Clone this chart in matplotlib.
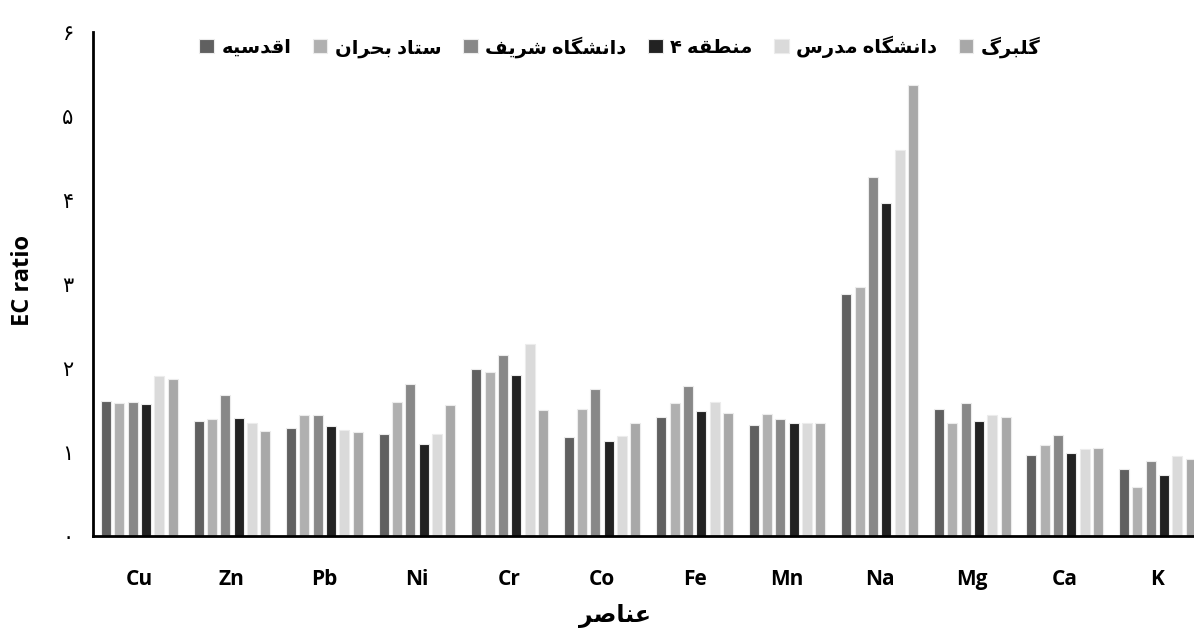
import matplotlib
matplotlib.use("Agg")
import matplotlib.pyplot as plt
import numpy as np

# عناصر و داده‌ها
elements = ["Cu", "Zn", "Pb", "Ni", "Cr", "Co", "Fe", "Mn", "Na", "Mg", "Ca", "K"]
aghdasieh = [1.61, 1.37, 1.29, 1.22, 1.99, 1.18, 1.42, 1.32, 2.88, 1.51, 0.96, 0.80]
setad_bohran = [1.58, 1.39, 1.44, 1.59, 1.95, 1.51, 1.58, 1.45, 2.97, 1.35, 1.08, 0.58]
sharif = [1.59, 1.68, 1.44, 1.81, 2.15, 1.75, 1.78, 1.39, 4.28, 1.58, 1.20, 0.89]
mantaghe4 = [1.57, 1.41, 1.31, 1.10, 1.92, 1.13, 1.49, 1.35, 3.96, 1.37, 0.99, 0.73]
modares = [1.90, 1.34, 1.26, 1.22, 2.29, 1.19, 1.60, 1.34, 4.60, 1.44, 1.04, 0.95]
golbarg = [1.87, 1.25, 1.24, 1.56, 1.50, 1.34, 1.46, 1.34, 5.37, 1.42, 1.05, 0.92]

series_names = ["اقدسیه", "ستاد بحران", "دانشگاه شریف", "منطقه ۴", "دانشگاه مدرس", "گلبرگ"]
series_colors = ["#606060", "#b0b0b0", "#888888", "#222222", "#dadada", "#a8a8a8"]
yticks = [0, 1, 2, 3, 4, 5, 6]
persian_digits = "۰۱۲۳۴۵۶۷۸۹"

# matplotlib حروف عربی را به هم نمی‌چسباند -> شکل‌دهی دستی
FORMS = {
    "ا": ("\ufe8d", "\ufe8e", None, None),
    "د": ("\ufea9", "\ufeaa", None, None),
    "ر": ("\ufead", "\ufeae", None, None),
    "ب": ("\ufe8f", "\ufe90", "\ufe91", "\ufe92"),
    "ت": ("\ufe95", "\ufe96", "\ufe97", "\ufe98"),
    "ح": ("\ufea1", "\ufea2", "\ufea3", "\ufea4"),
    "س": ("\ufeb1", "\ufeb2", "\ufeb3", "\ufeb4"),
    "ش": ("\ufeb5", "\ufeb6", "\ufeb7", "\ufeb8"),
    "ص": ("\ufeb9", "\ufeba", "\ufebb", "\ufebc"),
    "ط": ("\ufec1", "\ufec2", "\ufec3", "\ufec4"),
    "ع": ("\ufec9", "\ufeca", "\ufecb", "\ufecc"),
    "ف": ("\ufed1", "\ufed2", "\ufed3", "\ufed4"),
    "ق": ("\ufed5", "\ufed6", "\ufed7", "\ufed8"),
    "ل": ("\ufedd", "\ufede", "\ufedf", "\ufee0"),
    "م": ("\ufee1", "\ufee2", "\ufee3", "\ufee4"),
    "ن": ("\ufee5", "\ufee6", "\ufee7", "\ufee8"),
    "ه": ("\ufee9", "\ufeea", "\ufeeb", "\ufeec"),
    "ی": ("\ufbfc", "\ufbfd", "\ufbfe", "\ufbff"),
    "گ": ("\ufb92", "\ufb93", "\ufb94", "\ufb95"),
}


def fa(s):
    out = []
    for i, ch in enumerate(s):
        if ch not in FORMS:
            out.append(ch)
            continue
        prev = s[i - 1] if i > 0 else None
        nxt = s[i + 1] if i + 1 < len(s) else None
        jp = prev in FORMS and FORMS[prev][2] is not None
        jn = nxt in FORMS and FORMS[ch][2] is not None
        iso, fin, ini, med = FORMS[ch]
        out.append(med if jp and jn else fin if jp else ini if jn else iso)
    return "".join(out)[::-1]


FAM = ["Open Sans", "DejaVu Sans"]
plt.rcParams["font.family"] = FAM

data = [aghdasieh, setad_bohran, sharif, mantaghe4, modares, golbarg]
x = np.arange(len(elements))
step, width = 0.144, 0.108

fig = plt.figure(figsize=(11.94, 6.37), dpi=100)
ax = fig.add_axes([0.078, 0.1586, 0.93, 0.791])
for i, (vals, name, col) in enumerate(zip(data, series_names, series_colors)):
    ax.bar(x + (i - 2.5) * step, vals, width, color=col, edgecolor="#ececec",
           linewidth=0.8, label=fa(name))

ax.set_xlim(-0.5, 11.5)
ax.set_ylim(0, 6)
ax.set_xticks(x)
ax.set_xticklabels(elements, fontsize=15, fontweight="bold")
ax.set_yticks(yticks)
ax.set_yticklabels(["".join(persian_digits[int(c)] for c in str(v)) for v in yticks],
                   fontsize=15, family=["DejaVu Sans"])
ax.tick_params(axis="x", length=0, pad=24)
ax.tick_params(axis="y", length=0, pad=14)
for s in ("top", "right"):
    ax.spines[s].set_visible(False)
for s in ("left", "bottom"):
    ax.spines[s].set_linewidth(2)

fig.text(0.019, (637 - 280) / 637, "EC ratio", rotation=90, ha="center", va="center",
         fontsize=17, fontweight="bold")
fig.text(0.515, 1 - 616 / 637, fa("عناصر"), ha="center", va="center",
         fontsize=17, fontweight="bold")

leg = fig.legend(loc="center", bbox_to_anchor=(620 / 1194, 1 - 47 / 637), ncol=6,
                 frameon=False, handlelength=0.75, handleheight=0.75, handletextpad=0.4,
                 columnspacing=1.1, prop={"size": 14, "weight": "bold", "family": FAM})

fig.savefig("out.png", dpi=100)
